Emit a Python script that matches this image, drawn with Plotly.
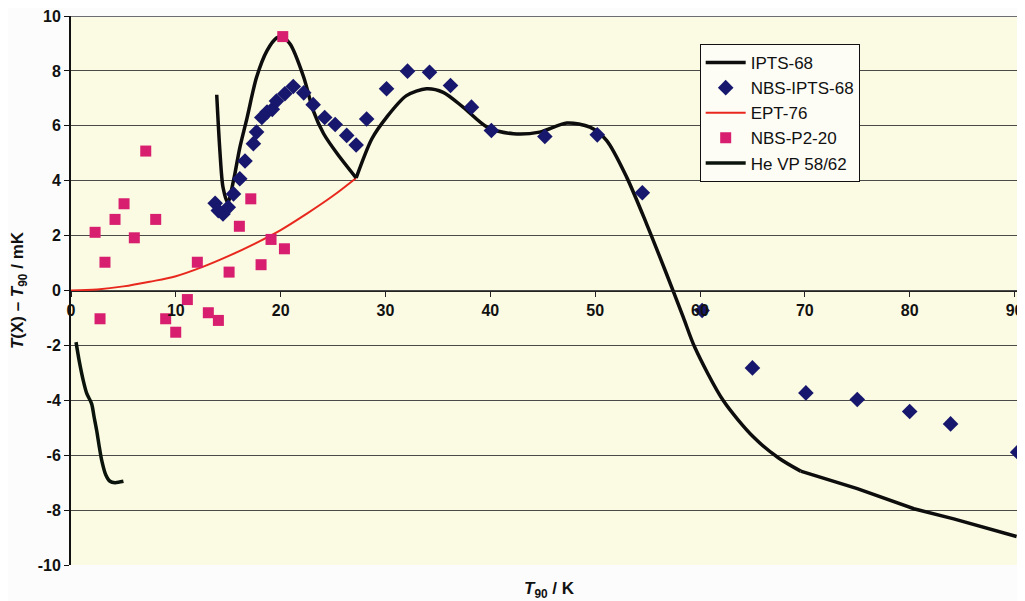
import plotly.graph_objects as go

# ---- data ----
# IPTS-68 curve, three smooth pieces joined at kinks
ipts68_seg1_t = [13.9, 14.2, 14.5, 14.95, 15.5, 16.1, 16.8, 17.7, 18.7, 19.6, 20.1, 20.9, 22.2, 23.1, 24.1, 25.4, 27.2]
ipts68_seg1_d = [7.13, 5.1, 3.76, 3.2, 4.0, 5.2, 6.3, 7.77, 8.74, 9.2, 9.25, 8.98, 7.77, 6.56, 5.71, 4.98, 4.1]
ipts68_seg2_t = [27.2, 28.7, 30.1, 32.0, 33.9, 35.5, 37.4, 39.7, 42.2, 44.7, 47.3, 49.5, 51.1, 53.0, 54.9, 56.8, 58.4, 59.5, 62.2, 65.1, 67.5, 69.6]
ipts68_seg2_d = [4.1, 5.53, 6.31, 7.1, 7.35, 7.22, 6.68, 5.95, 5.71, 5.77, 6.1, 5.95, 5.46, 4.13, 2.43, 0.61, -0.97, -2.07, -4.0, -5.34, -6.1, -6.58]
ipts68_seg3_t = [69.6, 75.0, 80.4, 84.2, 90.2]
ipts68_seg3_d = [-6.58, -7.22, -7.95, -8.32, -8.96]

nbs_ipts68_t = [13.75, 14.05, 14.5, 15.0, 15.5, 16.1, 16.6, 17.4, 17.7, 18.2, 18.7, 19.2, 19.6, 20.4, 21.2,
                22.2, 23.1, 24.2, 25.2, 26.3, 27.2, 28.2, 30.1, 32.1, 34.2, 36.2, 38.2, 40.1, 45.2, 50.2,
                54.5, 60.2, 65.0, 70.1, 75.0, 80.0, 83.9, 90.3]
nbs_ipts68_d = [3.18, 2.91, 2.79, 3.03, 3.52, 4.07, 4.72, 5.35, 5.77, 6.3, 6.5, 6.6, 6.9, 7.17, 7.43,
                7.2, 6.77, 6.3, 6.05, 5.65, 5.3, 6.25, 7.35, 7.99, 7.95, 7.47, 6.68, 5.83, 5.61, 5.67,
                3.56, -0.73, -2.82, -3.73, -3.97, -4.41, -4.86, -5.89]

ept76_t = [0, 2.5, 5, 7.5, 10, 12.5, 15, 17.5, 20, 22.5, 25, 27.2]
ept76_d = [0, 0.04, 0.15, 0.32, 0.52, 0.85, 1.25, 1.7, 2.2, 2.8, 3.45, 4.1]

nbs_p2_20_t = [2.3, 2.77, 3.24, 4.2, 5.06, 6.04, 7.13, 8.08, 9.03, 9.99, 11.1, 12.05, 13.1, 14.06,
               15.08, 16.06, 17.15, 18.13, 19.08, 20.2, 20.36]
nbs_p2_20_d = [2.12, -1.03, 1.03, 2.59, 3.16, 1.92, 5.08, 2.59, -1.03, -1.52, -0.33, 1.03, -0.81, -1.09,
               0.67, 2.34, 3.34, 0.94, 1.86, 9.25, 1.52]

he_vp_t = [0.48, 0.8, 1.17, 1.5, 1.97, 2.2, 2.45, 2.7, 2.93, 3.3, 3.72, 4.2, 5.0]
he_vp_d = [-1.88, -2.6, -3.28, -3.75, -4.13, -4.6, -5.1, -5.7, -6.19, -6.7, -6.95, -7.0, -6.95]

y_ticks = [-10, -8, -6, -4, -2, 0, 2, 4, 6, 8, 10]
x_ticks = [0, 10, 20, 30, 40, 50, 60, 70, 80, 90]

FONT = "Arial, Liberation Sans, sans-serif"
BLACK = "#0d0d0d"
NAVY = "#17176e"
RED = "#e8281e"
PINK = "#d81e6e"

fig = go.Figure()

fig.add_trace(go.Scatter(x=ept76_t, y=ept76_d, mode="lines", name="EPT-76",
                         line=dict(color=RED, width=2, shape="spline"), legendrank=3))
for i, (tt, dd) in enumerate([(ipts68_seg1_t, ipts68_seg1_d),
                              (ipts68_seg2_t, ipts68_seg2_d),
                              (ipts68_seg3_t, ipts68_seg3_d)]):
    fig.add_trace(go.Scatter(x=tt, y=dd, mode="lines", name="IPTS-68", legendgroup="ipts",
                             showlegend=(i == 0), legendrank=1,
                             line=dict(color=BLACK, width=3.5, shape="spline" if i < 2 else "linear",
                                       smoothing=0.8)))
fig.add_trace(go.Scatter(x=he_vp_t, y=he_vp_d, mode="lines", name="He VP 58/62", legendrank=5,
                         line=dict(color="#0a140c", width=3.5, shape="spline", smoothing=0.8)))
fig.add_trace(go.Scatter(x=nbs_p2_20_t, y=nbs_p2_20_d, mode="markers", name="NBS-P2-20", legendrank=4,
                         marker=dict(symbol="square", size=11, color=PINK)))
fig.add_trace(go.Scatter(x=nbs_ipts68_t, y=nbs_ipts68_d, mode="markers", name="NBS-IPTS-68", legendrank=2,
                         marker=dict(symbol="diamond", size=12, color=NAVY)))

# page body has an 8px margin, so the figure is sized to fill the remaining window
fig.update_layout(
    width=1017, height=593,
    margin=dict(l=63, r=0, t=8, b=36),
    paper_bgcolor="#fbfcfb",
    plot_bgcolor="#fbfae2",
    font=dict(family=FONT, size=16, color="#111111"),
    showlegend=True,
    legend=dict(x=0.659, y=0.949, xanchor="left", yanchor="top",
                bgcolor="#fdfdf6", bordercolor="#111111", borderwidth=1,
                font=dict(family=FONT, size=17, color="#111111"),
                tracegroupgap=0, itemwidth=40),
    xaxis=dict(range=[0, 91.0], tickvals=x_ticks, ticktext=[f"<b>{v}</b>" for v in x_ticks],
               anchor="free", position=0.5, showline=True, linecolor="#222222", linewidth=1,
               ticks="outside", ticklen=5, tickcolor="#222222", showgrid=False, zeroline=False,
               ticklabeloverflow="allow",
               tickfont=dict(family=FONT, size=16, color="#111111")),
    yaxis=dict(range=[-10, 10], tickvals=y_ticks, ticktext=[f"<b>{v}</b>" for v in y_ticks],
               showline=True, linecolor="#111111", linewidth=2, ticks="outside", ticklen=5,
               tickcolor="#111111", showgrid=True, gridcolor="#4a4a48", gridwidth=1, zeroline=False,
               ticklabeloverflow="allow",
               tickfont=dict(family=FONT, size=16, color="#111111"),
               title=dict(text="<b><i>T</i>(X) – <i>T</i><sub>90</sub> / mK</b>",
                          font=dict(family=FONT, size=17, color="#111111"), standoff=10)),
    shapes=[dict(type="line", xref="paper", yref="y", x0=0, x1=1, y0=10, y1=10,
                 line=dict(color="#3c3c50", width=1.5))],
    annotations=[dict(text="<b><i>T</i><sub>90</sub> / K</b>", xref="paper", yref="paper",
                      x=0.502, y=-0.045, xanchor="center", yanchor="middle", showarrow=False,
                      font=dict(family=FONT, size=17, color="#111111"))],
)

fig.write_html("out.html")
